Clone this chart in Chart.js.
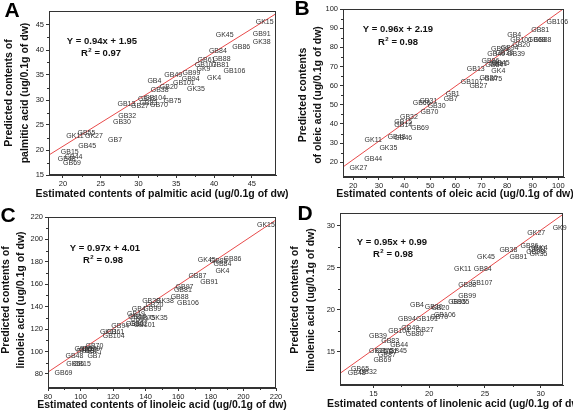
<!DOCTYPE html>
<html>
<head>
<meta charset="utf-8">
<script src="https://cdn.jsdelivr.net/npm/chart.js@4.4.1/dist/chart.umd.min.js"></script>
<style>
  body { margin: 0; background: #fff; width: 573px; height: 411px; position: relative; overflow: hidden; }
  canvas { position: absolute; left: 0; top: 0; }
</style>
</head>
<body>
<canvas id="chartA" width="573" height="411"></canvas>
<canvas id="chartB" width="573" height="411"></canvas>
<canvas id="chartC" width="573" height="411"></canvas>
<canvas id="chartD" width="573" height="411"></canvas>
<script>
'use strict';

// Panel A - palmitic acid
const namesA = ['GK15','GK45','GB91','GK38','GB86','GB84','GB88','GB61','GB81','GB107','GK9','GB106','GB49','GB99','GB94','GK4','GB4','GB101','GB20','GB38','GK35','GB104','GB93','GB75','GB70','GB13','GB27','GB83','GB32','GB30','GB55','GK11','GK27','GB7','GB45','GB15','GB44','GB48','GB69'];
const estA = [46.7,41.4,46.3,46.3,43.6,40.5,41.0,39.0,40.8,38.9,38.6,42.7,34.6,37.0,36.9,40.0,32.1,36.0,34.0,32.8,37.6,32.2,31.1,34.5,32.7,28.4,30.2,31.3,28.5,27.8,23.1,21.6,24.1,26.9,23.2,20.9,21.4,20.5,21.2];
const predA = [45.5,43.0,43.2,41.5,40.5,39.8,38.2,37.9,37.0,37.0,36.2,35.7,35.0,35.3,34.2,34.3,33.7,33.3,32.5,32.0,32.2,30.3,30.1,29.7,28.9,29.2,28.8,29.3,26.8,25.6,23.3,22.8,22.7,21.9,20.8,19.5,18.5,18.1,17.3];
const xTicksA = [20,25,30,35,40,45];
const yTicksA = [15,20,25,30,35,40,45];
const fitA = [[18,18.87],[48.5,47.54]];

// Panel B - oleic acid
const namesB = ['GB106','GB81','GB4','GB101','GB88','GB68','GB20','GB99','GB94','GB38','GB39','GB49','GB86','GB91','GB84','GB45','GB13','GK4','GB36','GB75','GB107','GB27','GB1','GB7','GB66','GB31','GB30','GB70','GB32','GB15','GB14','GB69','GK11','GB48','GB46','GK35','GB44','GK27'];
const estB = [99.6,92.9,82.8,85.5,93.8,91.6,85.5,77.2,81.0,78.9,83.5,75.8,73.5,76.5,75.0,77.5,67.8,76.6,72.7,74.6,66.2,68.8,58.8,58.0,46.7,49.3,52.5,49.7,41.7,39.5,39.5,46.0,27.8,36.9,39.5,33.7,27.8,22.0];
const predB = [93.0,89.2,86.6,83.6,84.0,83.6,81.2,79.0,79.5,77.0,76.5,76.5,72.8,71.5,70.5,71.8,68.6,67.4,63.9,63.4,61.7,60.0,55.8,53.0,50.8,51.7,49.1,46.3,43.5,40.9,39.5,38.1,31.7,33.1,32.6,27.6,21.7,16.9];
const xTicksB = [20,30,40,50,60,70,80,90,100];
const yTicksB = [20,30,40,50,60,70,80,90,100];
const fitB = [[15,16.59],[103,101.07]];

// Panel C - linoleic acid
const namesC = ['GK15','GK45','GB85','GB84','GB86','GK4','GB87','GB91','GB97','GB81','GB88','GB106','GK38','GB38','GB20','GB99','GB4','GB49','GB17','GB10','GB75','GK35','GB94','GB30','GB101','GB32','GK11','GB61','GB104','GB70','GB55','GB79','GB39','GB27','GB13','GB7','GB48','GB56','GB15','GB69'];
const estC = [213.8,177.5,184.8,187.1,193.3,187.1,171.7,179.0,163.8,162.8,160.8,165.9,151.8,143.3,145.3,144.0,135.7,134.0,134.7,136.0,140.3,148.0,124.4,133.2,139.3,135.7,117.2,121.3,120.3,108.5,101.8,104.5,106.5,108.0,102.8,108.5,96.2,96.7,100.8,89.5];
const predC = [212.5,181.4,181.0,178.3,182.6,171.8,167.6,162.1,157.4,155.0,148.2,143.4,144.6,145.2,141.5,137.7,138.2,133.7,130.3,129.0,129.8,129.8,122.7,124.4,123.2,124.8,117.2,117.2,113.5,104.5,102.1,101.2,102.2,100.0,100.5,95.5,96.1,88.8,88.8,80.6];
const xTicksC = [80,100,120,140,160,180,200,220];
const yTicksC = [80,100,120,140,160,180,200,220];
const fitC = [[78,79.67],[222,219.35]];

// Panel D - linolenic acid
const namesD = ['GK9','GK27','GB86','GK4','GB81','GB98','GK35','GB38','GB91','GK45','GK11','GB84','GB107','GB88','GB99','GB95','GB35','GB4','GB30','GB20','GB94','GB101','GB106','GB70','GB49','GB104','GB27','GB80','GB39','GB83','GB44','GB15','GB75','GB7','GB45','GB87','GB69','GB65','GB32','GB48'];
const estD = [31.7,29.6,29.0,30.0,29.7,29.5,29.8,27.1,28.0,25.1,23.0,24.8,24.7,23.4,23.4,22.5,22.8,18.9,20.4,21.0,18.0,19.8,21.4,20.9,18.3,17.3,19.6,18.7,15.4,16.5,17.3,15.4,16.0,16.5,17.2,16.2,15.8,13.8,14.5,13.5];
const predD = [29.8,29.1,27.6,27.4,27.3,26.9,26.6,27.1,26.3,26.3,24.8,24.8,23.2,22.9,21.6,20.9,20.9,20.5,20.3,20.2,18.9,18.9,19.3,19.1,17.8,17.5,17.6,17.1,16.8,16.2,15.8,15.0,15.0,14.9,15.1,14.6,14.0,12.9,12.5,12.4];
const xTicksD = [15,20,25,30];
const yTicksD = [15,20,25,30];
const fitD = [[11,11.44],[33,32.34]];

const FONT = '"Liberation Sans", Arial, sans-serif';
const INK = '#222';

// every chart covers the whole page; padding puts its plot area in place
const panels = [
  { id: 'chartA', letter: 'A', names: namesA, est: estA, pred: predA, fit: fitA,
    xTicks: xTicksA, yTicks: yTicksA, xRange: [18.15, 48.2], yRange: [15, 47.8],
    pad: { left: 0, top: 11, right: 297, bottom: 206 }, yWidth: 49, xHeight: 30,
    eq: 'Y = 0.94x + 1.95', r2: '0.97', eqPos: [102, 41], r2Pos: [101, 53],
    letterPos: [12, 10], yTitle: ['Predicted contents of', 'palmitic acid (ug/0.1g of dw)'],
    yTitleX: [9, 25], yTitleY: 93,
    xTitle: 'Estimated contents of palmitic acid (ug/0.1g of dw)', xTitlePos: [162, 194] },
  { id: 'chartB', letter: 'B', names: namesB, est: estB, pred: predB, fit: fitB,
    xTicks: xTicksB, yTicks: yTicksB, xRange: [16, 102.2], yRange: [12.3, 100],
    pad: { left: 286, top: 9, right: 9, bottom: 206 }, yWidth: 57, xHeight: 28,
    eq: 'Y = 0.96x + 2.19', r2: '0.98', eqPos: [398, 29], r2Pos: [398, 42],
    letterPos: [302, 8], yTitle: ['Predicted contents', 'of oleic acid (ug/0.1g of dw)'],
    yTitleX: [303, 318], yTitleY: 95,
    xTitle: 'Estimated contents of oleic acid (ug/0.1g of dw)', xTitlePos: [455, 194] },
  { id: 'chartC', letter: 'C', names: namesC, est: estC, pred: predC, fit: fitC,
    xTicks: xTicksC, yTicks: yTicksC, xRange: [80, 220], yRange: [67.4, 220],
    pad: { left: 0, top: 217, right: 297, bottom: 0 }, yWidth: 48, xHeight: 23,
    eq: 'Y = 0.97x + 4.01', r2: '0.98', eqPos: [105, 248], r2Pos: [103, 260],
    letterPos: [8, 215], yTitle: ['Predicted contents of', 'linoleic acid (ug/0.1g of dw)'],
    yTitleX: [6, 21], yTitleY: 300,
    xTitle: 'Estimated contents of linoleic acid (ug/0.1g of dw)', xTitlePos: [162, 405] },
  { id: 'chartD', letter: 'D', names: namesD, est: estD, pred: predD, fit: fitD,
    xTicks: xTicksD, yTicks: yTicksD, xRange: [12, 32], yRange: [11, 31.55],
    pad: { left: 286, top: 213, right: 10, bottom: 0 }, yWidth: 54, xHeight: 26,
    eq: 'Y = 0.95x + 0.99', r2: '0.98', eqPos: [392, 242], r2Pos: [393, 254],
    letterPos: [305, 213], yTitle: ['Predicted contents of', 'linolenic acid (ug/0.1g of dw)'],
    yTitleX: [295, 311], yTitleY: 300,
    xTitle: 'Estimated contents of linolenic acid (ug/0.1g of dw)', xTitlePos: [455, 404] }
];

// Draws the frame, minor ticks, point labels, equation and titles
function makeDecor(p) {
  return {
    id: 'decor_' + p.id,
    afterDatasetsDraw(chart) {
      const ctx = chart.ctx;
      const area = chart.chartArea;
      const xs = chart.scales.x, ys = chart.scales.y;
      ctx.save();

      // point labels
      ctx.font = '7px ' + FONT;
      ctx.fillStyle = '#333';
      ctx.textAlign = 'center';
      ctx.textBaseline = 'middle';
      for (let i = 0; i < p.names.length; i++) {
        ctx.fillText(p.names[i], xs.getPixelForValue(p.est[i]), ys.getPixelForValue(p.pred[i]));
      }

      // frame
      ctx.strokeStyle = '#333';
      ctx.lineWidth = 1;
      ctx.strokeRect(Math.round(area.left) + 0.5, Math.round(area.top) + 0.5,
        Math.round(area.right - area.left) - 1, Math.round(area.bottom - area.top) - 1);

      // minor ticks
      ctx.beginPath();
      for (let i = 0; i < p.xTicks.length - 1; i++) {
        const px = Math.round(xs.getPixelForValue((p.xTicks[i] + p.xTicks[i + 1]) / 2)) + 0.5;
        ctx.moveTo(px, area.bottom); ctx.lineTo(px, area.bottom + 2);
      }
      for (let i = 0; i < p.yTicks.length - 1; i++) {
        const py = Math.round(ys.getPixelForValue((p.yTicks[i] + p.yTicks[i + 1]) / 2)) + 0.5;
        ctx.moveTo(area.left, py); ctx.lineTo(area.left - 2, py);
      }
      ctx.stroke();

      // equation
      ctx.fillStyle = '#111';
      ctx.font = 'bold 9.5px ' + FONT;
      ctx.fillText(p.eq, p.eqPos[0], p.eqPos[1]);
      const rest = ' = ' + p.r2;
      const wR = ctx.measureText('R').width;
      const wRest = ctx.measureText(rest).width;
      const x0 = p.r2Pos[0] - (wR + 4 + wRest) / 2;
      ctx.textAlign = 'left';
      ctx.fillText('R', x0, p.r2Pos[1]);
      ctx.font = 'bold 6px ' + FONT;
      ctx.fillText('2', x0 + wR + 0.5, p.r2Pos[1] - 3);
      ctx.font = 'bold 9.5px ' + FONT;
      ctx.fillText(rest, x0 + wR + 4, p.r2Pos[1]);

      // panel letter
      ctx.textAlign = 'center';
      ctx.font = 'bold 21px ' + FONT;
      ctx.fillStyle = '#000';
      ctx.fillText(p.letter, p.letterPos[0], p.letterPos[1] + 1);

      // axis titles
      ctx.font = 'bold 10.5px ' + FONT;
      ctx.fillStyle = '#111';
      ctx.fillText(p.xTitle, p.xTitlePos[0], p.xTitlePos[1]);
      for (let k = 0; k < p.yTitle.length; k++) {
        ctx.save();
        ctx.translate(p.yTitleX[k], p.yTitleY);
        ctx.rotate(-Math.PI / 2);
        ctx.fillText(p.yTitle[k], 0, 0);
        ctx.restore();
      }
      ctx.restore();
    }
  };
}

function buildChart(p) {
  const ctx = document.getElementById(p.id).getContext('2d');
  const tickFont = { family: FONT, size: 7.5 };
  return new Chart(ctx, {
    type: 'scatter',
    data: {
      datasets: [
        {
          label: 'samples',
          data: p.est.map((v, i) => ({ x: v, y: p.pred[i] })),
          pointRadius: 0,
          pointHoverRadius: 0
        },
        {
          label: 'fit',
          type: 'line',
          data: p.fit.map(pt => ({ x: pt[0], y: pt[1] })),
          borderColor: '#e84a4a',
          borderWidth: 1,
          pointRadius: 0,
          fill: false
        }
      ]
    },
    options: {
      responsive: false,
      animation: false,
      events: [],
      layout: { padding: p.pad },
      plugins: { legend: { display: false }, tooltip: { enabled: false } },
      scales: {
        x: {
          type: 'linear',
          min: p.xRange[0], max: p.xRange[1],
          afterBuildTicks: s => { s.ticks = p.xTicks.map(v => ({ value: v })); },
          afterFit: s => { s.height = p.xHeight; },
          ticks: { font: tickFont, color: INK, padding: 1, maxRotation: 0, autoSkip: false },
          grid: { drawOnChartArea: false, tickLength: 3, color: '#333' },
          border: { color: '#333' }
        },
        y: {
          type: 'linear',
          min: p.yRange[0], max: p.yRange[1],
          afterBuildTicks: s => { s.ticks = p.yTicks.map(v => ({ value: v })); },
          afterFit: s => { s.width = p.yWidth; },
          ticks: { font: tickFont, color: INK, padding: 2, autoSkip: false },
          grid: { drawOnChartArea: false, tickLength: 3, color: '#333' },
          border: { color: '#333' }
        }
      }
    },
    plugins: [makeDecor(p)]
  });
}

panels.forEach(buildChart);
</script>
</body>
</html>
